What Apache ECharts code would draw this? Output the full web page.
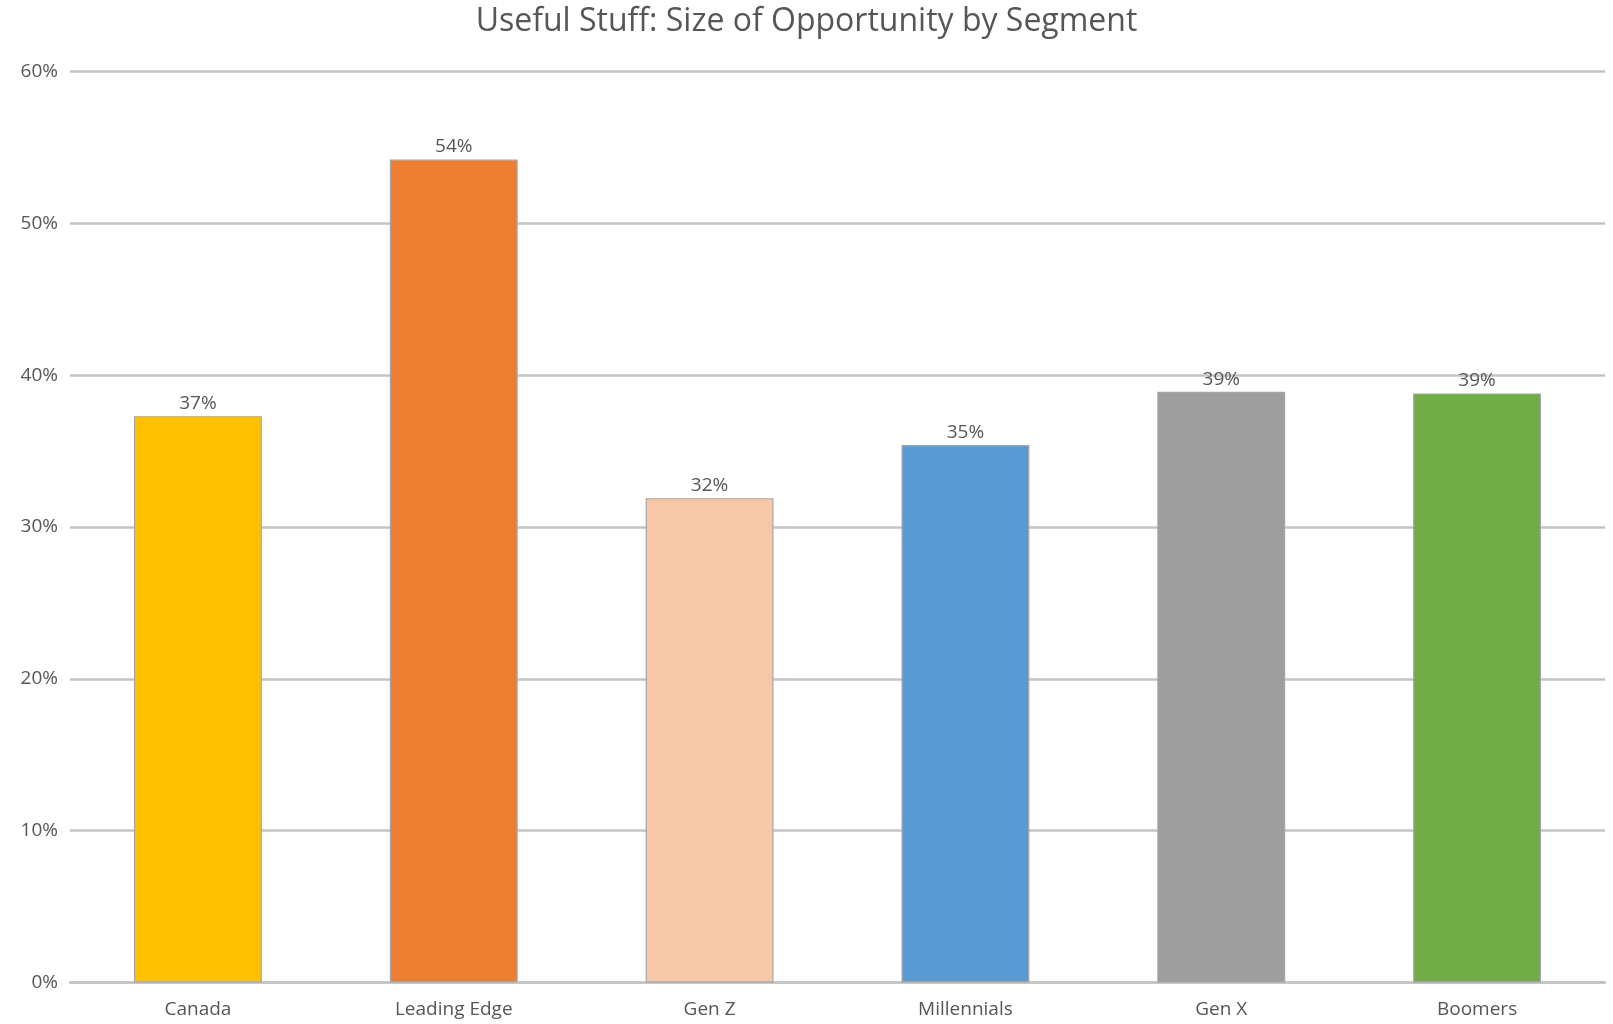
<!DOCTYPE html>
<html>
<head>
<meta charset="utf-8">
<title>Useful Stuff: Size of Opportunity by Segment</title>
<script src="https://cdn.jsdelivr.net/npm/echarts@6/dist/echarts.min.js"></script>
<style>
  html, body { margin: 0; padding: 0; background: #ffffff; }
  #chart { width: 1613px; height: 1024px; }
</style>
</head>
<body>
<div id="chart"></div>
<script>
// Segments and their share of opportunity (%)
const segments = ['Canada', 'Leading Edge', 'Gen Z', 'Millennials', 'Gen X', 'Boomers'];
const opportunity = [37.3, 54.2, 31.9, 35.4, 38.9, 38.8];
const barColors = ['#FFC000', '#ED7D31', '#F6C8A8', '#5B9BD5', '#9E9E9E', '#70AD47'];
const yTicks = { min: 0, max: 60, step: 10 };

const textColor = '#565656';
const gridColor = '#c4c4c4';
const fontFamily = '"Open Sans", "Liberation Sans", sans-serif';

const chart = echarts.init(document.getElementById('chart'), null, { renderer: 'canvas' });

chart.setOption({
  backgroundColor: '#ffffff',
  animation: false,
  title: {
    text: 'Useful Stuff: Size of Opportunity by Segment',
    left: 'center',
    top: 1,
    textStyle: { color: textColor, fontFamily: fontFamily, fontSize: 32, fontWeight: 'normal' }
  },
  grid: { left: 70, right: 8, top: 71.5, bottom: 41.5, containLabel: false },
  xAxis: {
    type: 'category',
    data: segments,
    axisLine: { show: true, lineStyle: { color: gridColor, width: 2.5 } },
    axisTick: { show: false },
    axisLabel: { color: textColor, fontFamily: fontFamily, fontSize: 19, margin: 18 }
  },
  yAxis: {
    type: 'value',
    min: yTicks.min,
    max: yTicks.max,
    interval: yTicks.step,
    axisLine: { show: false },
    axisTick: { show: false },
    axisLabel: { color: textColor, fontFamily: fontFamily, fontSize: 19, margin: 12, formatter: '{value}%' },
    splitLine: { show: true, lineStyle: { color: gridColor, width: 2.5 } }
  },
  series: [{
    type: 'bar',
    barWidth: '50%',
    data: opportunity.map((v, i) => ({
      value: v,
      itemStyle: { color: barColors[i], borderColor: '#a6a6a6', borderWidth: 1.2 }
    })),
    label: {
      show: true,
      position: 'top',
      distance: 3,
      color: textColor,
      fontFamily: fontFamily,
      fontSize: 19,
      formatter: p => Math.round(p.value) + '%'
    }
  }]
});
</script>
</body>
</html>
